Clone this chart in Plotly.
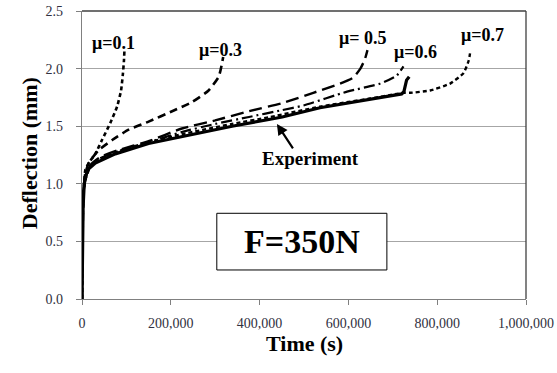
import plotly.graph_objects as go

# ---- data (time in s, deflection in mm) ----
exp_t = [0, 1000, 2500, 5000, 12000, 30000, 75000, 150000, 225000, 338000, 424000,
         451000, 536000, 649000, 709000, 720000, 725000, 728000, 731000, 737000]
exp_d = [0, 0.45, 0.80, 1.00, 1.12, 1.18, 1.26, 1.35, 1.41, 1.50, 1.56,
         1.58, 1.66, 1.73, 1.77, 1.78, 1.80, 1.85, 1.90, 1.93]

mu01_t = [0, 2000, 5000, 7500, 15000, 30000, 45000, 64000, 79000, 88000, 92000, 94500, 95500]
mu01_d = [0, 0.80, 1.02, 1.12, 1.18, 1.26, 1.38, 1.53, 1.67, 1.81, 1.95, 2.07, 2.15]

mu03_t = [0, 3000, 7000, 15000, 37000, 68000, 105000, 150000, 203000, 248000, 285000,
          308000, 315000, 318000]
mu03_d = [0, 0.90, 1.08, 1.18, 1.29, 1.38, 1.47, 1.54, 1.63, 1.71, 1.81,
          1.93, 2.04, 2.10]

mu05_t = [0, 3000, 8000, 18000, 40000, 80000, 150000, 225000, 300000, 376000, 451000,
          521000, 581000, 610000, 627000, 637000, 643000]
mu05_d = [0, 0.90, 1.05, 1.16, 1.23, 1.29, 1.37, 1.48, 1.55, 1.63, 1.70,
          1.79, 1.87, 1.92, 2.00, 2.08, 2.16]

mu06_t = [0, 3000, 8000, 18000, 40000, 80000, 150000, 225000, 300000, 376000, 451000,
          499000, 597000, 672000, 709000, 724000]
mu06_d = [0, 0.90, 1.05, 1.15, 1.22, 1.28, 1.36, 1.45, 1.52, 1.58, 1.64,
          1.68, 1.80, 1.87, 1.94, 2.02]

mu07_t = [0, 3000, 8000, 18000, 40000, 80000, 150000, 225000, 338000, 424000, 536000,
          649000, 709000, 725000, 740000, 784000, 829000, 859000, 871000, 875000]
mu07_d = [0, 0.90, 1.04, 1.14, 1.21, 1.28, 1.36, 1.43, 1.52, 1.58, 1.67,
          1.74, 1.78, 1.79, 1.79, 1.81, 1.87, 1.96, 2.07, 2.16]

x_ticks = [0, 200000, 400000, 600000, 800000, 1000000]
x_tick_text = ["0", "200,000", "400,000", "600,000", "800,000", "1,000,000"]
y_ticks = [0.0, 0.5, 1.0, 1.5, 2.0, 2.5]
y_tick_text = ["0.0", "0.5", "1.0", "1.5", "2.0", "2.5"]

labels = ["μ=0.1", "μ=0.3", "μ= 0.5", "μ=0.6", "μ=0.7"]
label_x = [72000, 313000, 631000, 750000, 901000]
label_y = [2.22, 2.16, 2.27, 2.14, 2.29]

FONT = "Liberation Serif"

fig = go.Figure()
sims = [
    (mu01_t, mu01_d, "4px,3px", 2.6),
    (mu03_t, mu03_d, "8px,5px", 2.6),
    (mu05_t, mu05_d, "13px,6px", 2.4),
    (mu06_t, mu06_d, "11px,4px,2px,4px", 2.2),
    (mu07_t, mu07_d, "4px,3px", 2.4),
]
for t, d, dash, w in sims:
    fig.add_trace(go.Scatter(x=t, y=d, mode="lines",
                             line=dict(color="black", width=w, dash=dash, shape="spline", smoothing=0.5),
                             showlegend=False, hoverinfo="skip"))
fig.add_trace(go.Scatter(x=exp_t, y=exp_d, mode="lines",
                         line=dict(color="black", width=3.2),
                         showlegend=False, hoverinfo="skip"))

for txt, x, y in zip(labels, label_x, label_y):
    fig.add_annotation(x=x, y=y, text=f"<b>{txt}</b>", showarrow=False,
                       font=dict(family=FONT, size=18, color="black"))

# Experiment label with arrow
fig.add_annotation(x=439000, y=1.52, ax=17, ay=26, text="", showarrow=True,
                   arrowhead=2, arrowsize=1.0, arrowwidth=2.2, arrowcolor="black",
                   startstandoff=0, standoff=0)
fig.add_annotation(x=514000, y=1.224, text="<b>Experiment</b>", showarrow=False,
                   font=dict(family=FONT, size=19, color="black"))

# F=350N box
fig.add_shape(type="rect", x0=303600, x1=686700, y0=0.252, y1=0.744,
              line=dict(color="black", width=1), fillcolor="white", layer="above")
fig.add_annotation(x=495000, y=0.498, text="<b>F=350N</b>", showarrow=False,
                   font=dict(family=FONT, size=34, color="black"))

# axis titles
fig.add_annotation(xref="paper", yref="paper", x=-0.151, y=0.508, text="<b>Deflection (mm)</b>",
                   textangle=-90, showarrow=False, font=dict(family=FONT, size=22, color="black"))
fig.add_annotation(xref="paper", yref="paper", x=0.5, y=-0.205, text="<b>Time (s)</b>",
                   showarrow=False, font=dict(family=FONT, size=22, color="black"))

# top and right frame lines
fig.add_shape(type="line", xref="paper", yref="paper", x0=0, x1=1, y0=1, y1=1,
              line=dict(color="#404040", width=1.3))
fig.add_shape(type="line", xref="paper", yref="paper", x0=1, x1=1, y0=0, y1=1,
              line=dict(color="#404040", width=1.3))

fig.update_layout(
    width=557, height=373,
    margin=dict(l=82, r=31, t=11, b=74),
    plot_bgcolor="white", paper_bgcolor="white",
    font=dict(family=FONT, color="#303040"),
    xaxis=dict(range=[0, 1000000], tickvals=x_ticks, ticktext=x_tick_text, automargin=False,
               showgrid=False, zeroline=False, showline=True, linecolor="#808080", linewidth=1.3,
               ticks="outside", ticklen=5, tickcolor="#808080", tickfont=dict(size=14, family=FONT),
               ticklabelstandoff=6),
    yaxis=dict(range=[0, 2.5], tickvals=y_ticks, ticktext=y_tick_text, automargin=False,
               showgrid=True, gridcolor="#a6a6a6", gridwidth=1, zeroline=False,
               showline=True, linecolor="#808080", linewidth=1.3,
               ticks="outside", ticklen=5, tickcolor="#808080", tickfont=dict(size=14, family=FONT),
               ticklabelstandoff=10),
)

fig.write_html("out.html")
